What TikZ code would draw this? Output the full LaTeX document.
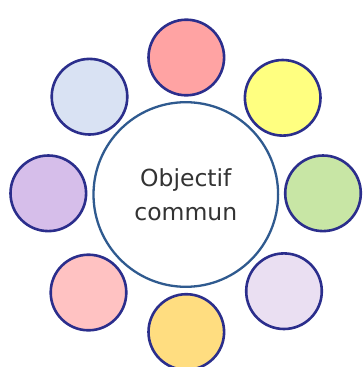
\documentclass[tikz,border=0pt]{standalone}
\usepackage{fontspec}
\setmainfont{DejaVu Sans}
\definecolor{ringblue}{HTML}{2B2E8C}
\definecolor{centerblue}{HTML}{2F5A8F}
\definecolor{txt}{HTML}{333333}
\definecolor{cA}{HTML}{FFA3A3}
\definecolor{cB}{HTML}{FFFF80}
\definecolor{cC}{HTML}{C8E6A5}
\definecolor{cD}{HTML}{EADFF2}
\definecolor{cE}{HTML}{FFDD80}
\definecolor{cF}{HTML}{FFC2C2}
\definecolor{cG}{HTML}{D6BEEA}
\definecolor{cH}{HTML}{D9E2F3}
\begin{document}
\begin{tikzpicture}[x=1pt,y=1pt,
  petal/.style={circle,draw=ringblue,line width=2.6pt,minimum size=75.6pt,inner sep=0pt},
  hub/.style={circle,draw=centerblue,line width=2.3pt,fill=white,minimum size=184.6pt,inner sep=0pt,
    text=txt,align=center,font=\fontsize{23.5}{34.5}\selectfont}]
\useasboundingbox (0,0) rectangle (362,-367);
\node[hub] (c) at (185.8,-194.5) {Objectif\\commun};
\node[petal,fill=cA] (p1) at (186.3,-57.5) {};
\node[petal,fill=cB] (p2) at (282.7,-97.8) {};
\node[petal,fill=cC] (p3) at (323,-193.3) {};
\node[petal,fill=cD] (p4) at (284,-291.2) {};
\node[petal,fill=cE] (p5) at (186.3,-332) {};
\node[petal,fill=cF] (p6) at (88.5,-292.5) {};
\node[petal,fill=cG] (p7) at (48.3,-193.3) {};
\node[petal,fill=cH] (p8) at (89.5,-96.7) {};
\end{tikzpicture}
\end{document}
